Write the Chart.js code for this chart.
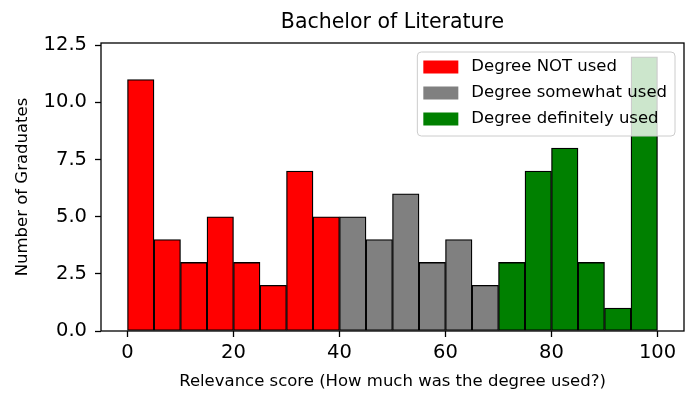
<!DOCTYPE html>
<html>
<head>
<meta charset="utf-8">
<title>Bachelor of Literature</title>
<script src="https://cdn.jsdelivr.net/npm/chart.js@4.4.1/dist/chart.umd.min.js"></script>
<style>
    body { margin: 0; background: #ffffff; }
    canvas { display: block; }
</style>
</head>
<body>
<canvas id="histChart" width="698" height="408"></canvas>
<script>
// Bin centres (bins are 5 points wide) and counts per group
const notUsedBins = [2.5, 7.5, 12.5, 17.5, 22.5, 27.5, 32.5, 37.5];
const notUsedCounts = [11, 4, 3, 5, 3, 2, 7, 5];
const somewhatBins = [42.5, 47.5, 52.5, 57.5, 62.5, 67.5];
const somewhatCounts = [5, 4, 6, 3, 4, 2];
const definitelyBins = [72.5, 77.5, 82.5, 87.5, 92.5, 97.5];
const definitelyCounts = [3, 7, 8, 3, 1, 12];

const xTicks = [0, 20, 40, 60, 80, 100];
const yTicks = [0, 2.5, 5, 7.5, 10, 12.5];

const FONT = "'DejaVu Sans', sans-serif";

function toPoints(bins, counts) {
    return bins.map((x, i) => ({ x: x, y: counts[i] }));
}

function makeDataset(label, bins, counts, color) {
    return {
        label: label,
        data: toPoints(bins, counts),
        backgroundColor: color,
        borderColor: '#000000',
        borderWidth: 1.3,
        borderSkipped: false,
        barPercentage: 1,
        categoryPercentage: 1,
        grouped: false
    };
}

// Box around the plot area, like matplotlib spines
const framePlugin = {
    id: 'frame',
    afterDatasetsDraw(chart) {
        const { ctx, chartArea: a } = chart;
        ctx.save();
        ctx.strokeStyle = '#000000';
        ctx.lineWidth = 1.3;
        ctx.strokeRect(a.left, a.top, a.right - a.left, a.bottom - a.top);
        ctx.restore();
    }
};

// Legend box in the upper right corner of the plot
const boxLegendPlugin = {
    id: 'boxLegend',
    afterDraw(chart) {
        const { ctx, chartArea: a } = chart;
        const sets = chart.data.datasets;
        ctx.save();
        ctx.font = '16.5px ' + FONT;
        const textW = Math.max(...sets.map(d => ctx.measureText(d.label).width));
        const handleW = 35, handleH = 13, rowH = 26;
        const w = 6 + handleW + 13 + textW + 8;
        const h = 15 + rowH * (sets.length - 1) + 17;
        const right = a.right - 9;
        const left = right - w;
        const top = a.top + 9;

        ctx.beginPath();
        ctx.roundRect(left, top, w, h, 4);
        ctx.fillStyle = 'rgba(255,255,255,0.8)';
        ctx.fill();
        ctx.strokeStyle = '#cccccc';
        ctx.lineWidth = 1;
        ctx.stroke();

        sets.forEach((d, i) => {
            const cy = top + 15 + i * rowH;
            ctx.fillStyle = d.backgroundColor;
            ctx.fillRect(left + 6, cy - handleH / 2, handleW, handleH);
            ctx.fillStyle = '#000000';
            ctx.textBaseline = 'middle';
            ctx.textAlign = 'left';
            ctx.fillText(d.label, left + 6 + handleW + 13, cy);
        });
        ctx.restore();
    }
};

const axisGrid = {
    display: true,
    offset: false,
    drawOnChartArea: false,
    drawTicks: true,
    tickLength: 6,
    tickColor: '#000000',
    tickWidth: 1.3
};

new Chart(document.getElementById('histChart'), {
    type: 'bar',
    data: {
        datasets: [
            makeDataset('Degree NOT used', notUsedBins, notUsedCounts, '#ff0000'),
            makeDataset('Degree somewhat used', somewhatBins, somewhatCounts, '#808080'),
            makeDataset('Degree definitely used', definitelyBins, definitelyCounts, '#008000')
        ]
    },
    options: {
        responsive: false,
        devicePixelRatio: 1,
        animation: false,
        layout: { padding: { top: 0, right: 14, bottom: 0, left: 0 } },
        plugins: {
            legend: { display: false },
            tooltip: { enabled: false },
            title: {
                display: true,
                fullSize: false,
                text: 'Bachelor of Literature',
                color: '#000000',
                font: { family: FONT, size: 20.5, weight: 'normal' },
                padding: { top: 10, bottom: 8.4 }
            }
        },
        scales: {
            x: {
                type: 'linear',
                min: -5,
                max: 105,
                offset: false,
                afterBuildTicks: scale => { scale.ticks = xTicks.map(v => ({ value: v })); },
                afterFit: scale => { scale.height = 77; },
                grid: axisGrid,
                border: { display: false },
                ticks: {
                    color: '#000000',
                    font: { family: FONT, size: 19.5 },
                    padding: 4,
                    maxRotation: 0,
                    callback: v => String(v)
                },
                title: {
                    display: true,
                    text: 'Relevance score (How much was the degree used?)',
                    color: '#000000',
                    font: { family: FONT, size: 16.5 },
                    padding: { top: 4, bottom: 16 }
                }
            },
            y: {
                type: 'linear',
                min: 0,
                max: 12.6,
                afterBuildTicks: scale => { scale.ticks = yTicks.map(v => ({ value: v })); },
                afterFit: scale => { scale.width = 101; },
                grid: axisGrid,
                border: { display: false },
                ticks: {
                    color: '#000000',
                    font: { family: FONT, size: 19.5 },
                    padding: 8,
                    callback: v => v.toFixed(1)
                },
                title: {
                    display: true,
                    text: 'Number of Graduates',
                    color: '#000000',
                    font: { family: FONT, size: 16.5 },
                    padding: { top: 12.6, bottom: 4 }
                }
            }
        }
    },
    plugins: [framePlugin, boxLegendPlugin]
});
</script>
</body>
</html>
